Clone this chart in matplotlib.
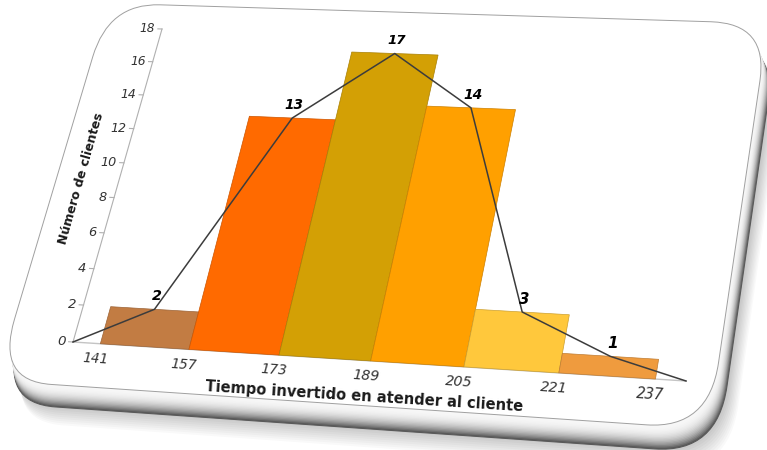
import numpy as np
import matplotlib
matplotlib.use("Agg")
import matplotlib.pyplot as plt
import matplotlib.transforms as mtransforms
from matplotlib.patches import FancyBboxPatch

# ---------------- data ----------------
class_edges = [141, 157, 173, 189, 205, 221, 237]
client_counts = [2, 13, 17, 14, 3, 1]
bar_colors = ["#C27C43", "#FF6A00", "#D3A005", "#FFA000", "#FFC83C", "#EF9B3E"]
y_tick_values = [0, 2, 4, 6, 8, 10, 12, 14, 16, 18]
x_title = "Tiempo invertido en atender al cliente"
y_title = "Número de clientes"

# ---------------- layout ----------------
W, H = 767, 450
x_limits = (136, 242)
y_limits = (0, 18)
# plot-area corners on the tilted card, in pixels from the top-left: BL, BR, TL, TR
frame_corners_px = [(73, 342), (686, 381), (162, 29), (737, 48)]
# card face corners (sharp, before rounding): TL, TR, BR, BL
card_corners_px = [(105, 7), (755, 19), (726, 416), (-5, 394)]
card_radius = 58


class PlaneWarp(mtransforms.Transform):
    """Projective (perspective) mapping of the chart plane."""
    input_dims = 2
    output_dims = 2
    is_separable = False
    has_inverse = True

    def __init__(self, matrix):
        super().__init__()
        self.matrix = np.asarray(matrix, float)

    def transform_non_affine(self, values):
        v = np.asarray(values, float)
        pts = v.reshape(-1, 2)
        p = np.column_stack([pts, np.ones(len(pts))]) @ self.matrix.T
        out = p[:, :2] / p[:, 2:3]
        return out.reshape(v.shape)

    def inverted(self):
        return PlaneWarp(np.linalg.inv(self.matrix))


def fit_homography(src, dst):
    src = np.asarray(src, float)
    dst = np.asarray(dst, float)

    def normaliser(p):
        c = p.mean(axis=0)
        s = np.sqrt(2) / np.mean(np.linalg.norm(p - c, axis=1))
        return np.array([[s, 0, -s * c[0]], [0, s, -s * c[1]], [0, 0, 1.0]])

    ts, td = normaliser(src), normaliser(dst)
    sh = np.column_stack([src, np.ones(len(src))]) @ ts.T
    dh = np.column_stack([dst, np.ones(len(dst))]) @ td.T
    rows = []
    for (x, y, _), (u, v, _) in zip(sh, dh):
        rows.append([x, y, 1, 0, 0, 0, -u * x, -u * y, -u])
        rows.append([0, 0, 0, x, y, 1, -v * x, -v * y, -v])
    _, _, vt = np.linalg.svd(np.asarray(rows))
    m = np.linalg.inv(td) @ vt[-1].reshape(3, 3) @ ts
    return m / m[2, 2]


fig = plt.figure(figsize=(W / 100, H / 100), dpi=100, facecolor="white")
ax = fig.add_axes([75 / W, 105 / H, 611 / W, 315 / H])
ax.set_xlim(*x_limits)
ax.set_ylim(*y_limits)
ax.set_autoscale_on(False)
ax.set_axis_off()
ax.patch.set_visible(False)

x0, x1 = x_limits
y0, y1 = y_limits
flat_frame = ax.transData.transform([(x0, y0), (x1, y0), (x0, y1), (x1, y1)])
target_frame = np.array([(u, H - v) for u, v in frame_corners_px], float)
plane = PlaneWarp(fit_homography(flat_frame, target_frame))
warp = ax.transData + plane


def local_scale(x, y):
    p = warp.transform([(x, y), (x + 1, y), (x, y + 1)])
    j = np.column_stack([p[1] - p[0], p[2] - p[0]])
    return np.sqrt(abs(np.linalg.det(j)))


def direction_angle(x, y, dx, dy):
    p = warp.transform([(x, y), (x + dx, y + dy)])
    d = p[1] - p[0]
    return np.degrees(np.arctan2(d[1], d[0]))


ref_scale = local_scale(189, 9)

# ---------------- card ----------------
card_disp = np.array([(u, H - v) for u, v in card_corners_px], float)
card_flat = plane.inverted().transform(card_disp)
c_left = (card_flat[0, 0] + card_flat[3, 0]) / 2
c_right = (card_flat[1, 0] + card_flat[2, 0]) / 2
c_top = (card_flat[0, 1] + card_flat[1, 1]) / 2
c_bottom = (card_flat[2, 1] + card_flat[3, 1]) / 2


def card_patch(dx, dy, **kw):
    p = FancyBboxPatch((c_left + dx, c_bottom + dy), c_right - c_left, c_top - c_bottom,
                       boxstyle=f"round,pad=0,rounding_size={card_radius}",
                       transform=plane, **kw)
    p.set_clip_on(False)
    return p


# soft drop shadow
for i in range(12):
    k = 1 - i / 12
    ax.add_artist(card_patch(8 + 16 * k, -(14 + 22 * k), facecolor="black",
                             edgecolor="none", alpha=0.022, zorder=0.1))
# card thickness with shading: light near the face, dark at the outer rim
n_layers = 18
for i in range(n_layers, 0, -1):
    f = i / n_layers
    g = 0.97 - 0.62 * f ** 2.6
    ax.add_artist(card_patch(11 * f, -20 * f, facecolor=(g, g, g),
                             edgecolor="#5a5a5a" if i == n_layers else "none",
                             linewidth=0.8, zorder=0.2))
# card face
ax.add_artist(card_patch(0, 0, facecolor="white", edgecolor="#a0a0a0",
                         linewidth=0.7, zorder=0.5))

# ---------------- axes lines and ticks ----------------
ax.plot([x0, x1], [0, 0], color="#c4c4c4", lw=1.0, transform=warp,
        clip_on=False, zorder=1.5)
ax.plot([x0, x0], [y0, y1], color="#b0b0b0", lw=0.8, transform=warp,
        clip_on=False, zorder=1.5)
for v in y_tick_values:
    ax.plot([x0 - 0.8, x0], [v, v], color="#b0b0b0", lw=0.8, transform=warp,
            clip_on=False, zorder=1.5)
    ax.annotate(str(v), xy=(x0 - 0.8, v), xycoords=warp, xytext=(-3, 0),
                textcoords="offset pixels", ha="right", va="center",
                fontsize=9.6 * local_scale(x0, v) / ref_scale, fontstyle="italic",
                color="#333333", annotation_clip=False, clip_on=False, zorder=4)

for e in class_edges:
    ax.annotate(str(e), xy=(e, 0), xycoords=warp, xytext=(-5, -15),
                textcoords="offset pixels", ha="center", va="center",
                rotation=direction_angle(e, 0, 1, 0), rotation_mode="anchor",
                fontsize=9.6 * local_scale(e, 0) / ref_scale, fontstyle="italic",
                color="#333333", annotation_clip=False, clip_on=False, zorder=4)

# ---------------- histogram bars ----------------
lefts = class_edges[:-1]
widths = np.diff(class_edges)
darker = [tuple(0.8 * c for c in matplotlib.colors.to_rgb(col)) for col in bar_colors]
ax.bar(lefts, client_counts, width=widths, align="edge", color=bar_colors,
       edgecolor=darker, linewidth=0.5, transform=warp, clip_on=False, zorder=2)

# ---------------- frequency polygon ----------------
mids = [a + w / 2 for a, w in zip(lefts, widths)]
poly_x = [x0] + mids + [x1]
poly_y = [0] + client_counts + [0]
ax.plot(poly_x, poly_y, color="#3c3c3c", lw=1.1, transform=warp,
        clip_on=False, zorder=3)

for m, c in zip(mids, client_counts):
    ax.annotate(str(c), xy=(m, c), xycoords=warp, xytext=(2, 13),
                textcoords="offset pixels", ha="center", va="center",
                fontsize=10.2 * local_scale(m, c) / ref_scale, fontweight="bold",
                fontstyle="italic", color="black", annotation_clip=False,
                clip_on=False, zorder=4)

# ---------------- axis titles ----------------
ax.annotate(x_title, xy=(189, 0), xycoords=warp, xytext=(-6, -36),
            textcoords="offset pixels", ha="center", va="center",
            rotation=direction_angle(189, 0, 1, 0), rotation_mode="anchor",
            fontsize=10.5, fontweight="bold", color="#1a1a1a",
            annotation_clip=False, clip_on=False, zorder=4)
ax.annotate(y_title, xy=(x0, 9), xycoords=warp, xytext=(-38, 2),
            textcoords="offset pixels", ha="center", va="center",
            rotation=direction_angle(x0, 9, 0, 1), rotation_mode="anchor",
            fontsize=9, fontweight="bold", color="#1a1a1a",
            annotation_clip=False, clip_on=False, zorder=4)

fig.savefig("out.png", dpi=100, facecolor="white")
